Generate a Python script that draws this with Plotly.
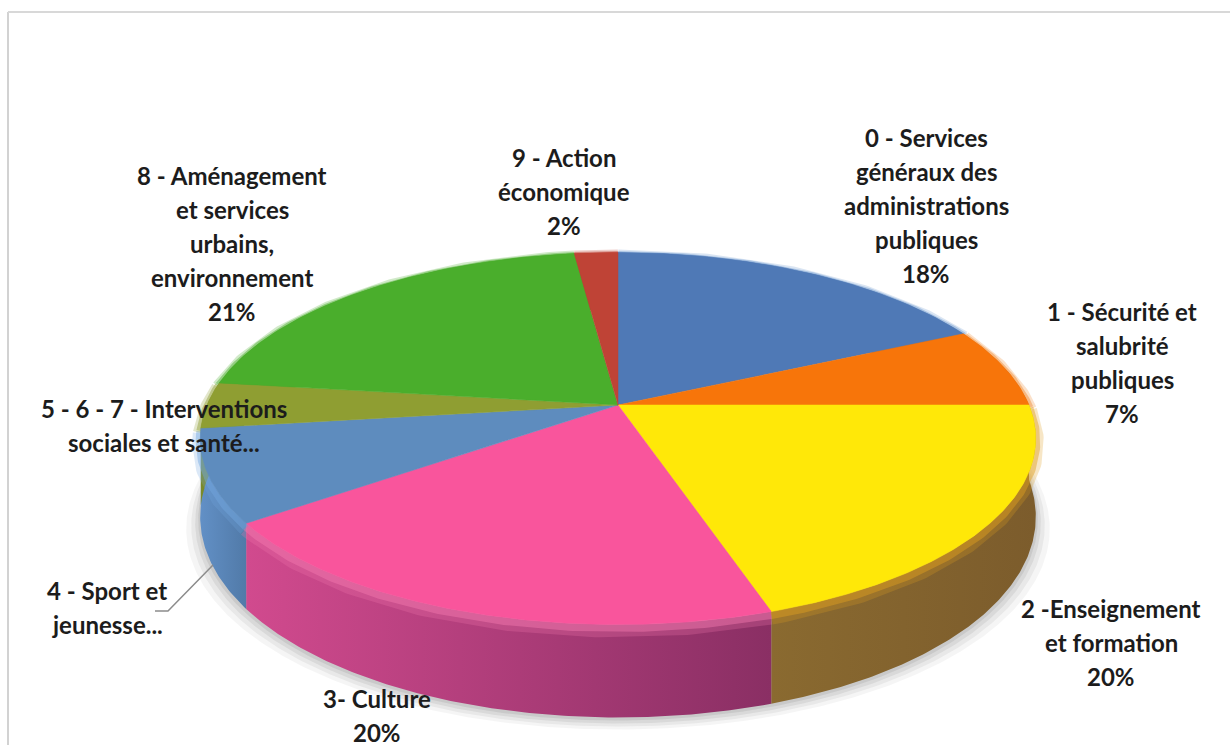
import numpy as np
import plotly.graph_objects as go

# Budget shares by function, clockwise from twelve o'clock
categories = ["0 - Services généraux des administrations publiques",
              "1 - Sécurité et salubrité publiques",
              "2 -Enseignement et formation",
              "3- Culture",
              "4 - Sport et jeunesse...",
              "5 - 6 - 7 - Interventions sociales et santé...",
              "8 - Aménagement et services urbains, environnement",
              "9 - Action économique"]
values = [18, 7, 20, 20, 8, 4, 21, 2]

label_lines = [["0 - Services", "généraux des", "administrations", "publiques", "18%"],
               ["1 - Sécurité et", "salubrité", "publiques", "7%"],
               ["2 -Enseignement", "et formation", "20%"],
               ["3- Culture", "20%"],
               ["4 - Sport et", "jeunesse..."],
               ["5 - 6 - 7 - Interventions", "sociales et santé..."],
               ["8 - Aménagement", "et services", "urbains,", "environnement", "21%"],
               ["9 - Action", "économique", "2%"]]
label_x = [926, 1122, 1111, 377, 107, 164, 232, 564]
label_y = [137, 311, 608, 698, 590, 408, 175, 157]
LINE_STEP = 34

top_colors = ["#4f79b6", "#f7750a", "#ffe808", "#f9559c", "#5e8cbe", "#8f9e32", "#4aae2c", "#bf4336"]
wall_left = ["#4f79b6", "#c85a08", "#8a6a30", "#d14a8e", "#6290c6", "#7a8a2a", "#3f9426", "#a83a2e"]
wall_right = ["#3f6090", "#a04a08", "#7c5c2c", "#8a2f64", "#517aa8", "#7a8a2a", "#3f9426", "#a83a2e"]
bevel_colors = ["#6f9bd0", "#f08a30", "#e0a020", "#f57ab0", "#74a8e0", "#8f9e32", "#4aae2c", "#bf4336"]

# Perspective disc: centre of the pie, radii and foreshortening
CX, CY = 618, 405
RX, RY, K = 411, 180, 0.18
DEPTH_BACK, DEPTH_FRONT = 75, 18


def project(frac, lift=0.0):
    """Map a cumulative share (0..1, clockwise from the top) onto the tilted disc."""
    a = 2 * np.pi * np.asarray(frac, dtype=float)
    u, v = np.sin(a), -np.cos(a)
    w = 1 - K * v
    x = CX + RX * u / w
    y = CY + RY * v / w
    drop = lift * (DEPTH_BACK + DEPTH_FRONT * v)
    return x, y + drop


def arc(start, stop, lift=0.0):
    n = max(6, int(abs(stop - start) * 720))
    return project(np.linspace(start, stop, n), lift)


fig = go.Figure()
total = sum(values)
edges = np.concatenate([[0], np.cumsum(values)]) / total

# Soft ground shadow under the front rim
for grow, off, alpha in [(14, 12, 0.06), (9, 9, 0.08), (5, 6, 0.10), (2, 3, 0.12)]:
    x, y = arc(0.23, 0.77, 1.0)
    x = CX + (x - CX) * (1 + grow / 420)
    fig.add_trace(go.Scatter(x=np.r_[x, x[0]], y=np.r_[y + off, y[0]], mode="lines",
                             line=dict(width=0), fill="toself",
                             fillcolor=f"rgba(90,90,90,{alpha})", hoverinfo="skip"))

# Rim walls
for i in range(len(values)):
    x0, y0 = arc(edges[i], edges[i + 1], 0.0)
    x1, y1 = arc(edges[i], edges[i + 1], 1.0)
    fig.add_trace(go.Scatter(
        x=np.r_[x0, x1[::-1], x0[0]], y=np.r_[y0, y1[::-1], y0[0]],
        mode="lines", line=dict(width=0), fill="toself",
        fillgradient=dict(type="horizontal",
                          colorscale=[[0, wall_left[i]], [1, wall_right[i]]]),
        hoverinfo="skip"))

# Rounded highlight where the top meets the rim
for i in range(len(values)):
    x0, y0 = arc(edges[i], edges[i + 1], 0.0)
    for width, alpha, drop in [(16, 0.25, 5), (9, 0.45, 3)]:
        fig.add_trace(go.Scatter(x=x0, y=y0 + drop, mode="lines", opacity=alpha,
                                 line=dict(width=width, color=bevel_colors[i]),
                                 hoverinfo="skip"))

# Top of the disc, one wedge per category
for i in range(len(values)):
    xa, ya = arc(edges[i], edges[i + 1], 0.0)
    fig.add_trace(go.Scatter(
        x=np.r_[CX, xa, CX], y=np.r_[CY, ya, CY], mode="lines", fill="toself",
        fillcolor=top_colors[i], line=dict(width=0.5, color=top_colors[i]),
        name=categories[i], hoverinfo="skip"))

# Labels, written one line at a time for the tight leading
annotations = []
for lines, lx, ly in zip(label_lines, label_x, label_y):
    for j, text in enumerate(lines):
        annotations.append(dict(x=lx, y=ly + j * LINE_STEP, text=text, showarrow=False,
                                xanchor="center", yanchor="middle",
                                font=dict(family="Lato", size=24, color="#1c1c1c", weight=700)))

# Chart frame and the leader line of the sport label
shapes = [
    dict(type="line", x0=8, x1=8, y0=12, y1=745, line=dict(color="#d2d2d2", width=2)),
    dict(type="line", x0=8, x1=1230, y0=12, y1=12, line=dict(color="#d8d8d8", width=2)),
    dict(type="path", path="M 213 565 L 168 611 L 155 611", line=dict(color="#8c8c8c", width=1.5)),
]

fig.update_layout(
    width=1230, height=745, margin=dict(l=0, r=0, t=0, b=0),
    paper_bgcolor="white", plot_bgcolor="white", showlegend=False,
    xaxis=dict(range=[0, 1230], visible=False, fixedrange=True),
    yaxis=dict(range=[745, 0], visible=False, fixedrange=True),
    annotations=annotations, shapes=shapes,
)
fig.write_html("out.html", config=dict(displayModeBar=False))
